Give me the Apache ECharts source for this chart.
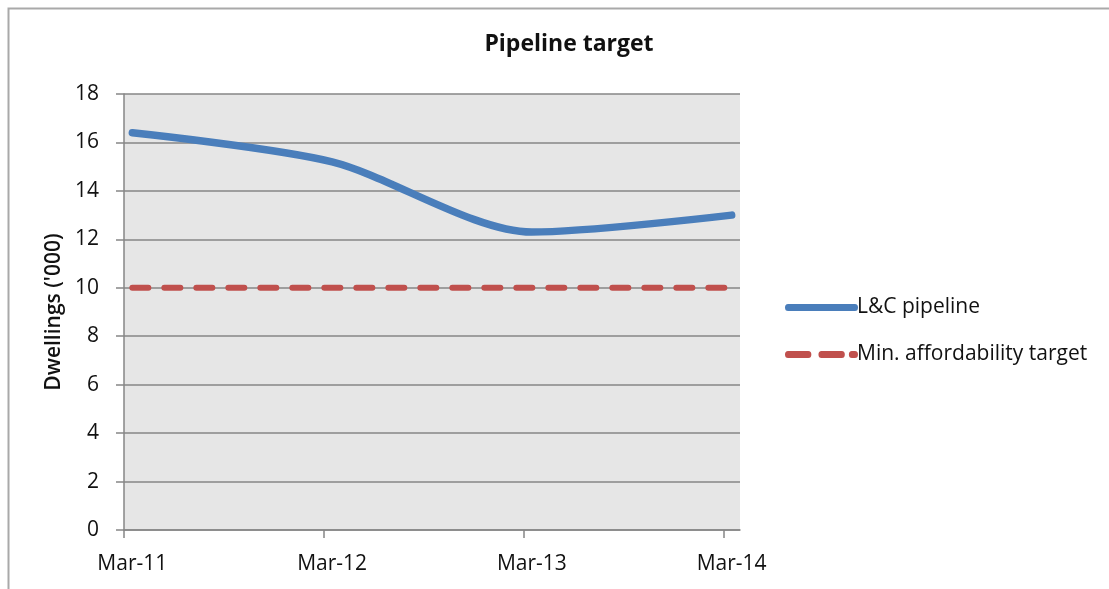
<!DOCTYPE html>
<html>
<head>
<meta charset="utf-8">
<title>Pipeline target</title>
<script src="https://cdn.jsdelivr.net/npm/echarts@6/dist/echarts.min.js"></script>
<style>
  html, body { margin: 0; padding: 0; background: #ffffff; }
  #chart { width: 1109px; height: 589px; }
</style>
</head>
<body>
<div id="chart"></div>
<script>
// Reporting dates (one per year) and the two series plotted against them
const periods = ['Mar-11', 'Mar-12', 'Mar-13', 'Mar-14'];
const pipeline = [16.4, 15.2, 12.3, 13.0];          // L&C pipeline, dwellings ('000)
const affordabilityTarget = [10, 10, 10, 10];       // minimum affordability target
const yTicks = [0, 2, 4, 6, 8, 10, 12, 14, 16, 18];

// Date axis in months from Mar-11; each point sits in the middle of its month
const MONTHS_PER_PERIOD = 12;
const periodStart = periods.map((p, i) => i * MONTHS_PER_PERIOD);
const periodMid = periodStart.map(m => m + 0.5);
const toPoints = vals => vals.map((v, i) => [periodMid[i], v]);

const FONT = '"Open Sans", "DejaVu Sans", sans-serif';
const GREY = '#868686';
const BLUE = '#4a7ebb';
const RED = '#c0504d';

// Legend keys: a solid rounded stroke, and two dashes plus a dot
const SOLID_KEY = 'path://M3,0 H69 A3,3 0 0 1 69,6 H3 A3,3 0 0 1 3,0 Z';
const DASHED_KEY = 'path://M3,0 H23 A3,3 0 0 1 23,6 H3 A3,3 0 0 1 3,0 Z ' +
                   'M36,0 H56 A3,3 0 0 1 56,6 H36 A3,3 0 0 1 36,0 Z ' +
                   'M66,0 H69 A3,3 0 0 1 69,6 H66 A3,3 0 0 1 66,0 Z';

const chart = echarts.init(document.getElementById('chart'), null, { renderer: 'canvas' });

chart.setOption({
  backgroundColor: '#ffffff',
  animation: false,
  graphic: [{
    type: 'rect',
    left: 6, top: 6, z: -10,
    shape: { width: 1200, height: 700 },
    style: { fill: 'none', stroke: '#a9a9a9', lineWidth: 2 }
  }],
  title: {
    text: 'Pipeline target',
    left: 564, top: 28, textAlign: 'center',
    textStyle: { fontFamily: FONT, fontSize: 23, fontWeight: 'bold', color: '#111' }
  },
  legend: {
    orient: 'vertical',
    left: 780, top: 292,
    itemWidth: 73, itemHeight: 7, itemGap: 26,
    symbolKeepAspect: false,
    textStyle: { fontFamily: FONT, fontSize: 21, color: '#111', padding: [0, 0, 0, -6] },
    data: [
      { name: 'L&C pipeline', icon: SOLID_KEY },
      { name: 'Min. affordability target', icon: DASHED_KEY }
    ]
  },
  grid: {
    left: 124, top: 94, right: 369, bottom: 59,
    show: true, backgroundColor: '#e6e6e6', borderWidth: 0
  },
  xAxis: {
    type: 'value',
    min: 0, max: periodStart[periodStart.length - 1] + 1,
    interval: MONTHS_PER_PERIOD,
    axisLine: { show: true, lineStyle: { color: GREY, width: 1.5 } },
    axisTick: { show: true, length: 8, customValues: periodStart, lineStyle: { color: GREY, width: 1.5 } },
    axisLabel: {
      customValues: periodMid,
      margin: 24,
      fontFamily: FONT, fontSize: 21, color: '#111',
      formatter: v => periods[Math.floor(v / MONTHS_PER_PERIOD)] || ''
    },
    splitLine: { show: false }
  },
  yAxis: {
    type: 'value',
    min: yTicks[0], max: yTicks[yTicks.length - 1], interval: 2,
    name: "Dwellings ('000)",
    nameLocation: 'middle', nameGap: 57, nameRotate: 90,
    nameTextStyle: { fontFamily: FONT, fontSize: 21, fontWeight: 600, color: '#111' },
    axisLine: { show: true, lineStyle: { color: GREY, width: 1.5 } },
    axisTick: { show: true, length: 8, lineStyle: { color: GREY, width: 1.5 } },
    axisLabel: { margin: 25, fontFamily: FONT, fontSize: 21, color: '#111' },
    splitLine: { show: true, lineStyle: { color: GREY, width: 1.5 } }
  },
  series: [
    {
      name: 'L&C pipeline',
      type: 'line',
      data: toPoints(pipeline),
      smooth: 0.28,
      symbol: 'none',
      color: BLUE,
      lineStyle: { color: BLUE, width: 7.5, cap: 'round', join: 'round' }
    },
    {
      name: 'Min. affordability target',
      type: 'line',
      data: toPoints(affordabilityTarget),
      symbol: 'none',
      color: RED,
      lineStyle: { color: RED, width: 6, type: [16, 16], cap: 'round' }
    }
  ]
});
</script>
</body>
</html>
